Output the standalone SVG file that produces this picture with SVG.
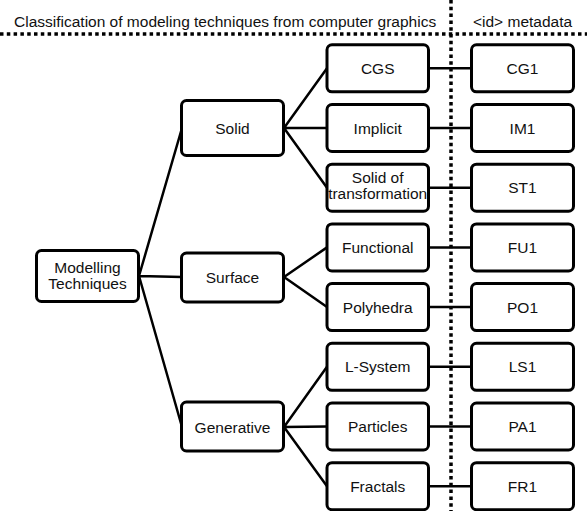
<svg xmlns="http://www.w3.org/2000/svg" width="587" height="511" viewBox="0 0 587 511">
<style>
.box{fill:#fff;stroke:#000;stroke-width:3}
.lbl{font-family:"Liberation Sans",Arial,sans-serif;font-size:15.5px;fill:#111;text-anchor:middle}
.hdr{font-family:"Liberation Sans",Arial,sans-serif;font-size:15.5px;fill:#111}
.con{stroke:#000;stroke-width:2.5;fill:none}
.dot{stroke:#000;stroke-width:3.5;stroke-dasharray:3.5 3.3;fill:none}
</style>
<rect width="587" height="511" fill="#fff"/>
<g id="header">
<text class="hdr" x="14" y="27">Classification of modeling techniques from computer graphics</text>
<text class="hdr" x="473" y="27">&lt;id&gt; metadata</text>
<line class="dot" x1="0" y1="34" x2="587" y2="34"/>
<line class="dot" x1="451" y1="0" x2="451" y2="511"/>
</g>
<g id="connectors">
<path class="con" d="M139 276 L182 128 M139 276 L182 277 M139 276 L182 427"/>
<path class="con" d="M284 128 L327 68.3 M284 128 L327 128 M284 128 L327 187.7"/>
<path class="con" d="M284 277 L327 247.4 M284 277 L327 307.1"/>
<path class="con" d="M284 427 L327 366.8 M284 427 L327 426.5 M284 427 L327 486.2"/>
<path class="con" d="M429 68.3H471 M429 128H471 M429 187.7H471 M429 247.4H471 M429 307.1H471 M429 366.8H471 M429 426.5H471 M429 486.2H471"/>
</g>
<g id="modelling"><rect class="box" x="36.5" y="250.5" width="102" height="51" rx="5"/><text class="lbl" x="87.5" y="272.5">Modelling</text><text class="lbl" x="87.5" y="288.5">Techniques</text></g>
<g id="solid"><rect class="box" x="181.5" y="100.5" width="102" height="55" rx="5"/><text class="lbl" x="232.5" y="133.5">Solid</text></g>
<g id="surface"><rect class="box" x="181.5" y="253" width="102" height="49" rx="5"/><text class="lbl" x="232.5" y="283">Surface</text></g>
<g id="generative"><rect class="box" x="181.5" y="402" width="102" height="49" rx="5"/><text class="lbl" x="232.5" y="432.5">Generative</text></g>
<g id="cgs"><rect class="box" x="327" y="44.8" width="101.5" height="47" rx="5"/><text class="lbl" x="377.7" y="73.8">CGS</text></g>
<g id="implicit"><rect class="box" x="327" y="104.5" width="101.5" height="47" rx="5"/><text class="lbl" x="377.7" y="133.5">Implicit</text></g>
<g id="solidtrans"><rect class="box" x="327" y="164.2" width="101.5" height="47" rx="5"/><text class="lbl" x="377.7" y="182.5">Solid of</text><text class="lbl" x="377.7" y="198.5">transformation</text></g>
<g id="functional"><rect class="box" x="327" y="223.9" width="101.5" height="47" rx="5"/><text class="lbl" x="377.7" y="252.9">Functional</text></g>
<g id="polyhedra"><rect class="box" x="327" y="283.6" width="101.5" height="47" rx="5"/><text class="lbl" x="377.7" y="312.6">Polyhedra</text></g>
<g id="lsystem"><rect class="box" x="327" y="343.3" width="101.5" height="47" rx="5"/><text class="lbl" x="377.7" y="372.3">L-System</text></g>
<g id="particles"><rect class="box" x="327" y="403" width="101.5" height="47" rx="5"/><text class="lbl" x="377.7" y="432">Particles</text></g>
<g id="fractals"><rect class="box" x="327" y="462.7" width="101.5" height="47" rx="5"/><text class="lbl" x="377.7" y="491.7">Fractals</text></g>
<g id="cg1"><rect class="box" x="471.5" y="44.8" width="102" height="47" rx="5"/><text class="lbl" x="522.5" y="73.8">CG1</text></g>
<g id="im1"><rect class="box" x="471.5" y="104.5" width="102" height="47" rx="5"/><text class="lbl" x="522.5" y="133.5">IM1</text></g>
<g id="st1"><rect class="box" x="471.5" y="164.2" width="102" height="47" rx="5"/><text class="lbl" x="522.5" y="193.2">ST1</text></g>
<g id="fu1"><rect class="box" x="471.5" y="223.9" width="102" height="47" rx="5"/><text class="lbl" x="522.5" y="252.9">FU1</text></g>
<g id="po1"><rect class="box" x="471.5" y="283.6" width="102" height="47" rx="5"/><text class="lbl" x="522.5" y="312.6">PO1</text></g>
<g id="ls1"><rect class="box" x="471.5" y="343.3" width="102" height="47" rx="5"/><text class="lbl" x="522.5" y="372.3">LS1</text></g>
<g id="pa1"><rect class="box" x="471.5" y="403" width="102" height="47" rx="5"/><text class="lbl" x="522.5" y="432">PA1</text></g>
<g id="fr1"><rect class="box" x="471.5" y="462.7" width="102" height="47" rx="5"/><text class="lbl" x="522.5" y="491.7">FR1</text></g>
</svg>
